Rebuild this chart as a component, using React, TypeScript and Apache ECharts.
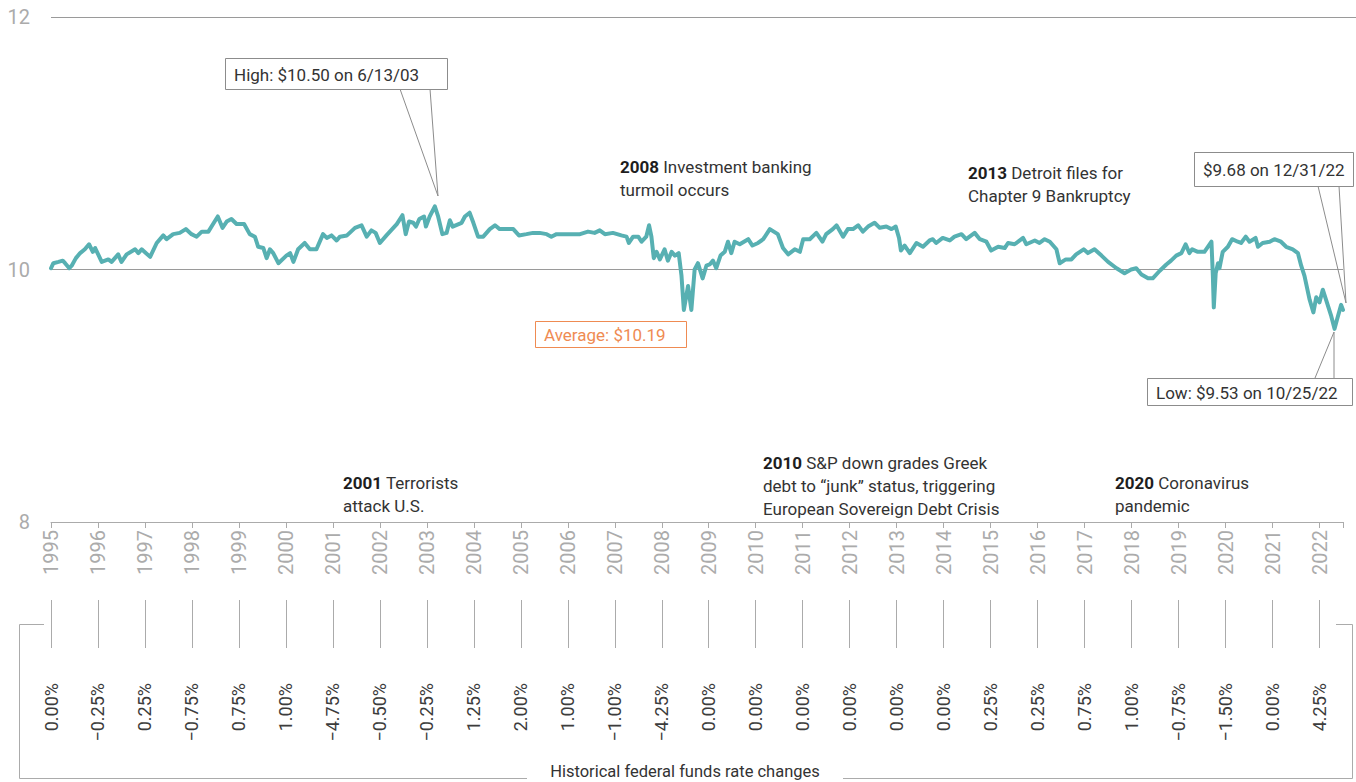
import React, { useEffect, useRef } from "react";
import * as echarts from "echarts";

// Year tick labels (x axis) and federal funds rate change for each year
const yearTicks = [
  1995, 1996, 1997, 1998, 1999, 2000, 2001, 2002, 2003, 2004, 2005, 2006, 2007, 2008,
  2009, 2010, 2011, 2012, 2013, 2014, 2015, 2016, 2017, 2018, 2019, 2020, 2021, 2022,
];
const rateChanges = [
  "0.00%", "\u22120.25%", "0.25%", "\u22120.75%", "0.75%", "1.00%", "\u22124.75%", "\u22120.50%",
  "\u22120.25%", "1.25%", "2.00%", "1.00%", "\u22121.00%", "\u22124.25%", "0.00%", "0.00%",
  "0.00%", "0.00%", "0.00%", "0.00%", "0.25%", "0.25%", "0.75%", "1.00%", "\u22120.75%",
  "\u22121.50%", "0.00%", "4.25%",
];

// Share price series (position on the time axis, price in $)
const navDates = [
  1995.0, 1995.05, 1995.16, 1995.25, 1995.3, 1995.39, 1995.44, 1995.53, 1995.62, 1995.72, 1995.81, 1995.89, 1995.94,
  1996.08, 1996.22, 1996.29, 1996.43, 1996.5, 1996.61, 1996.79, 1996.86, 1996.93,
  1997.11, 1997.25, 1997.39, 1997.46, 1997.6, 1997.74, 1997.87, 1997.99,
  1998.1, 1998.21, 1998.35, 1998.45, 1998.55, 1998.65, 1998.74, 1998.84, 1998.95,
  1999.11, 1999.23, 1999.34, 1999.41, 1999.52, 1999.59, 1999.66, 1999.73, 1999.84,
  2000.01, 2000.09, 2000.16, 2000.26, 2000.4, 2000.51, 2000.65, 2000.79, 2000.87, 2000.97,
  2001.08, 2001.15, 2001.3, 2001.47, 2001.61, 2001.72, 2001.82, 2001.91,
  2002.0, 2002.14, 2002.36, 2002.48, 2002.55, 2002.62, 2002.71, 2002.77, 2002.84, 2002.94, 2002.98,
  2003.06, 2003.17, 2003.24, 2003.33, 2003.42, 2003.49, 2003.55, 2003.74, 2003.81, 2003.91, 2003.99,
  2004.09, 2004.2, 2004.34, 2004.45, 2004.55, 2004.7, 2004.84, 2004.96,
  2005.12, 2005.26, 2005.4, 2005.55, 2005.65, 2005.76, 2005.97,
  2006.11, 2006.26, 2006.43, 2006.57, 2006.68, 2006.79, 2006.96,
  2007.14, 2007.25, 2007.3, 2007.39, 2007.5, 2007.57, 2007.67, 2007.73, 2007.78, 2007.83, 2007.89, 2007.96,
  2008.06, 2008.13, 2008.21, 2008.28, 2008.36, 2008.42, 2008.47, 2008.56, 2008.63, 2008.7, 2008.77, 2008.87, 2008.95,
  2009.02, 2009.09, 2009.16, 2009.25, 2009.34, 2009.41, 2009.48, 2009.55, 2009.66, 2009.84, 2009.93,
  2010.05, 2010.16, 2010.3, 2010.47, 2010.58, 2010.69, 2010.83, 2010.94,
  2011.01, 2011.15, 2011.29, 2011.42, 2011.5, 2011.64, 2011.72, 2011.86, 2011.96,
  2012.07, 2012.18, 2012.28, 2012.39, 2012.53, 2012.64, 2012.78, 2012.89, 2012.98,
  2013.05, 2013.09, 2013.17, 2013.28, 2013.42, 2013.56, 2013.7, 2013.77, 2013.84, 2013.98,
  2014.13, 2014.23, 2014.38, 2014.48, 2014.66, 2014.77, 2014.91,
  2015.01, 2015.16, 2015.3, 2015.37, 2015.51, 2015.69, 2015.76, 2015.94,
  2016.04, 2016.15, 2016.26, 2016.4, 2016.47, 2016.6, 2016.72, 2016.82, 2016.98,
  2017.07, 2017.21, 2017.36, 2017.5, 2017.68, 2017.85, 2017.99,
  2018.1, 2018.21, 2018.35, 2018.45, 2018.6, 2018.74, 2018.84, 2018.95,
  2019.06, 2019.15, 2019.23, 2019.29, 2019.41, 2019.55, 2019.7, 2019.73, 2019.75, 2019.79, 2019.84, 2019.87, 2019.94,
  2020.05, 2020.14, 2020.26, 2020.33, 2020.43, 2020.51, 2020.64, 2020.69, 2020.79, 2020.94,
  2021.04, 2021.18, 2021.29, 2021.43, 2021.54, 2021.61, 2021.68, 2021.79, 2021.87, 2021.93,
  2022.0, 2022.07, 2022.14, 2022.25, 2022.32, 2022.37, 2022.46, 2022.5,
];
const navValues = [
  10.01, 10.05, 10.06, 10.07, 10.05, 10.01, 10.03, 10.09, 10.13, 10.16, 10.2, 10.14, 10.17,
  10.06, 10.08, 10.06, 10.12, 10.06, 10.12, 10.16, 10.13, 10.16,
  10.1, 10.21, 10.27, 10.24, 10.28, 10.29, 10.32, 10.28,
  10.26, 10.3, 10.3, 10.36, 10.42, 10.33, 10.38, 10.4, 10.36,
  10.36, 10.28, 10.26, 10.18, 10.17, 10.09, 10.16, 10.13, 10.05,
  10.11, 10.13, 10.06, 10.16, 10.21, 10.16, 10.16, 10.28, 10.25, 10.27,
  10.23, 10.26, 10.27, 10.33, 10.35, 10.26, 10.31, 10.29,
  10.21, 10.27, 10.36, 10.43, 10.28, 10.38, 10.37, 10.34, 10.4, 10.42, 10.34,
  10.42, 10.5, 10.42, 10.28, 10.29, 10.39, 10.34, 10.37, 10.42, 10.45, 10.37,
  10.26, 10.26, 10.32, 10.35, 10.32, 10.32, 10.32, 10.27,
  10.28, 10.29, 10.29, 10.28, 10.26, 10.28, 10.28,
  10.28, 10.28, 10.3, 10.29, 10.31, 10.28, 10.29,
  10.27, 10.26, 10.21, 10.26, 10.26, 10.22, 10.26, 10.35, 10.26, 10.09, 10.14, 10.08,
  10.16, 10.07, 10.14, 10.11, 10.13, 9.95, 9.68, 9.87, 9.68, 10.0, 10.05, 9.93, 10.03,
  10.04, 10.07, 10.01, 10.11, 10.14, 10.22, 10.13, 10.22, 10.2, 10.24, 10.19,
  10.21, 10.24, 10.32, 10.28, 10.17, 10.12, 10.16, 10.14,
  10.24, 10.24, 10.29, 10.22, 10.28, 10.32, 10.35, 10.26, 10.32,
  10.32, 10.35, 10.3, 10.34, 10.37, 10.33, 10.34, 10.32, 10.34,
  10.25, 10.15, 10.19, 10.13, 10.21, 10.18, 10.23, 10.24, 10.21, 10.25,
  10.23, 10.26, 10.28, 10.24, 10.29, 10.24, 10.22,
  10.15, 10.18, 10.17, 10.21, 10.2, 10.25, 10.2, 10.23,
  10.21, 10.24, 10.22, 10.16, 10.05, 10.08, 10.08, 10.12, 10.16,
  10.13, 10.16, 10.11, 10.06, 10.01, 9.97, 10.0,
  10.01, 9.96, 9.93, 9.93, 9.99, 10.04, 10.07, 10.11,
  10.13, 10.2, 10.13, 10.16, 10.14, 10.14, 10.22, 9.95, 9.7, 9.97, 10.05, 10.01, 10.14,
  10.18, 10.24, 10.22, 10.21, 10.26, 10.22, 10.25, 10.18, 10.21, 10.22,
  10.24, 10.22, 10.18, 10.16, 10.13, 10.03, 9.95, 9.76, 9.66, 9.78,
  9.74, 9.84, 9.76, 9.63, 9.53, 9.6, 9.72, 9.68,
];

const yMin = 8;
const yMax = 12;
const yStep = 2;

const highText = "High: $10.50 on 6/13/03";
const averageText = "Average: $10.19";
const endText = "$9.68 on 12/31/22";
const lowText = "Low: $9.53 on 10/25/22";
const bracketText = "Historical federal funds rate changes";

const FONT = "Roboto, 'Noto Sans', sans-serif";
const TEAL = "#57b0b2";
const ORANGE = "#ef8b52";
const BOX = "#8c8c8c";
const LIGHT = "#ababab";
const TEXT = "#333333";

export default function App() {
  const ref = useRef<HTMLDivElement>(null);

  useEffect(() => {
    document.body.style.margin = "0";
    if (!ref.current) return;
    const chart = echarts.init(ref.current, null, { renderer: "svg" });
    const data = navDates.map((d, i) => [d, navValues[i]]);
    const isInt = (v: number) => Math.abs(v - Math.round(v)) < 1e-6;
    const rateFor = (v: number) => {
      if (!isInt(v)) return "";
      const idx = yearTicks.indexOf(Math.round(v));
      return idx >= 0 ? rateChanges[idx] : "";
    };
    const yearFor = (v: number) => {
      if (!isInt(v)) return "";
      return yearTicks.indexOf(Math.round(v)) >= 0 ? String(Math.round(v)) : "";
    };

    const note = (x: number, yCenter: number, text: string) => ({
      type: "text",
      x,
      y: yCenter - 11.5,
      silent: true,
      style: {
        text,
        fill: TEXT,
        fontSize: 17,
        fontFamily: FONT,
        lineHeight: 23,
        verticalAlign: "top",
        align: "left",
        rich: {
          b: { fontWeight: "bold", fontSize: 17, fontFamily: FONT, fill: "#1e1e1e", lineHeight: 23 },
        },
      },
    });

    const box = (x: number, y: number, w: number, h: number, text: string, color: string, textColor: string) => [
      {
        type: "rect",
        silent: true,
        shape: { x: x + 0.5, y: y + 0.5, width: w, height: h },
        style: { fill: "#ffffff", stroke: color, lineWidth: 1 },
        z: 10,
      },
      {
        type: "text",
        silent: true,
        x: x + 9,
        y: y + h / 2 + 1,
        style: { text, fill: textColor, fontSize: 17, fontFamily: FONT, verticalAlign: "middle", align: "left" },
        z: 11,
      },
    ];

    const pointer = (pts: number[][]) => ({
      type: "polyline",
      silent: true,
      shape: { points: pts },
      style: { stroke: BOX, lineWidth: 1, fill: "none" },
      z: 9,
    });

    const line = (pts: number[][]) => ({
      type: "polyline",
      silent: true,
      shape: { points: pts },
      style: { stroke: LIGHT, lineWidth: 1, fill: "none" },
    });

    const option: any = {
      animation: false,
      grid: [
        { left: 51, right: 13, top: 17, bottom: 260, containLabel: false, outerBoundsMode: "none" },
        { left: 51, right: 13, top: 600, height: 48, containLabel: false, outerBoundsMode: "none" },
      ],
      xAxis: [
        {
          type: "value",
          gridIndex: 0,
          min: 1995,
          max: 2022.5,
          interval: 1,
          axisLine: { show: true, lineStyle: { color: LIGHT, width: 1 } },
          axisTick: { show: true, length: 6, lineStyle: { color: LIGHT, width: 1 } },
          axisLabel: {
            rotate: 90,
            margin: 8,
            color: LIGHT,
            fontSize: 20,
            fontFamily: FONT,
            formatter: yearFor,
            showMinLabel: true,
            showMaxLabel: true,
          },
          splitLine: { show: false },
        },
        {
          type: "value",
          gridIndex: 1,
          min: 1995,
          max: 2022.5,
          interval: 1,
          axisLine: { show: false },
          axisTick: { show: false },
          axisLabel: {
            rotate: 90,
            margin: 35,
            color: "#3c3c3c",
            fontSize: 18,
            fontFamily: FONT,
            formatter: rateFor,
            showMinLabel: true,
            showMaxLabel: true,
          },
          splitLine: {
            show: true,
            showMinLine: true,
            showMaxLine: false,
            lineStyle: { color: LIGHT, width: 1 },
          },
        },
      ],
      yAxis: [
        {
          type: "value",
          gridIndex: 0,
          min: yMin,
          max: yMax,
          interval: yStep,
          axisLine: { show: false },
          axisTick: { show: false },
          axisLabel: { color: LIGHT, fontSize: 20, margin: 21, fontFamily: FONT },
          splitLine: { show: true, lineStyle: { color: "#9a9a9a", width: 1 } },
        },
        { type: "value", gridIndex: 1, min: 0, max: 1, show: false, splitLine: { show: false } },
      ],
      series: [
        {
          type: "line",
          xAxisIndex: 0,
          yAxisIndex: 0,
          data,
          symbol: "none",
          showSymbol: false,
          silent: true,
          lineStyle: { color: TEAL, width: 4, join: "round", cap: "round" },
          z: 5,
        },
        {
          type: "line",
          xAxisIndex: 1,
          yAxisIndex: 1,
          data: [],
          symbol: "none",
          silent: true,
        },
      ],
      graphic: [
        // extension of the top grid line to the page edge
        {
          type: "line",
          silent: true,
          shape: { x1: 1343, y1: 17.5, x2: 1356, y2: 17.5 },
          style: { stroke: "#9a9a9a", lineWidth: 1 },
        },
        // event notes
        note(343, 483, "{b|2001} Terrorists\nattack U.S."),
        note(620, 167, "{b|2008} Investment banking\nturmoil occurs"),
        note(763, 463, "{b|2010} S&P down grades Greek\ndebt to \u201cjunk\u201d status, triggering\nEuropean Sovereign Debt Crisis"),
        note(968, 173, "{b|2013} Detroit files for\nChapter 9 Bankruptcy"),
        note(1115, 483, "{b|2020} Coronavirus\npandemic"),
        // callouts
        pointer([[400, 89], [438, 196], [430, 89]]),
        ...box(225, 58, 222, 31, highText, BOX, TEXT),
        ...box(535, 321, 151, 26, averageText, ORANGE, ORANGE),
        pointer([[1318, 186], [1346, 303], [1339, 186]]),
        ...box(1194, 152, 159, 34, endText, BOX, TEXT),
        pointer([[1315, 378], [1334, 332], [1334, 378]]),
        ...box(1147, 378, 205, 27, lowText, BOX, TEXT),
        // bracket for the rate changes
        line([[44, 624.5], [19.5, 624.5], [19.5, 778.5], [527, 778.5]]),
        line([[843, 778.5], [1352.5, 778.5], [1352.5, 624.5], [1336, 624.5]]),
        {
          type: "text",
          silent: true,
          x: 685,
          y: 771,
          style: {
            text: bracketText,
            fill: TEXT,
            fontSize: 16.5,
            fontFamily: FONT,
            align: "center",
            verticalAlign: "middle",
          },
        },
      ],
    };

    chart.setOption(option);
    return () => chart.dispose();
  }, []);

  return <div ref={ref} style={{ width: 1356, height: 782 }} />;
}
